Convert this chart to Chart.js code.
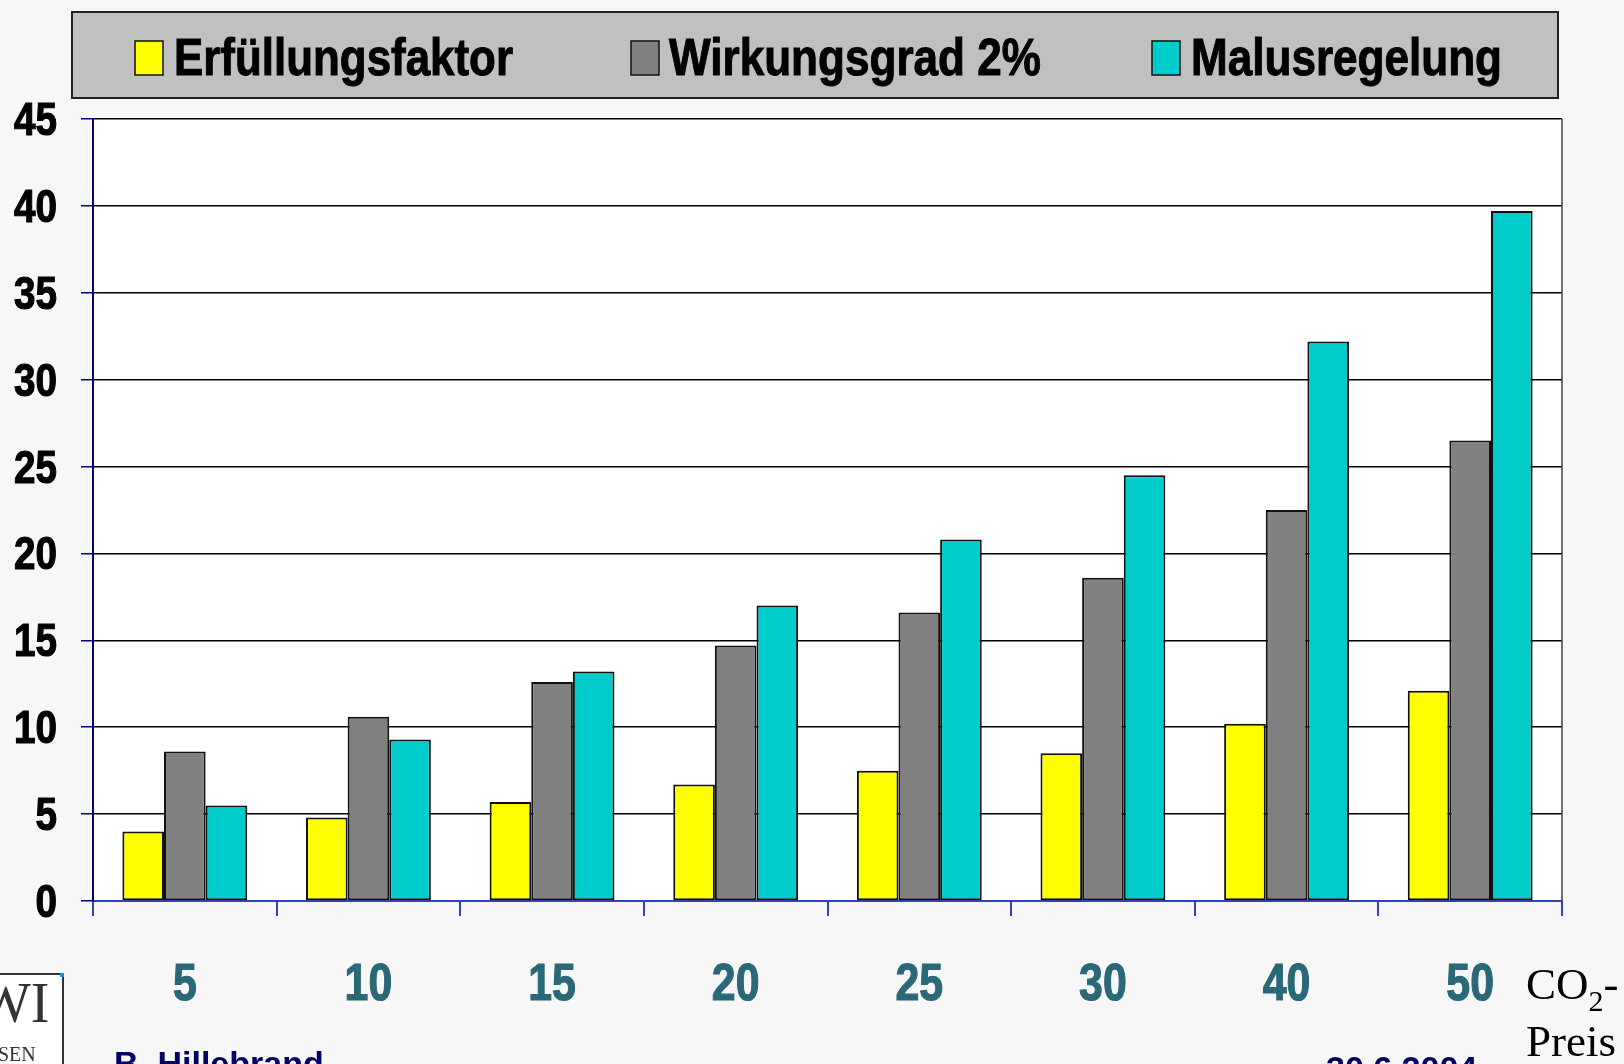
<!DOCTYPE html>
<html>
<head>
<meta charset="utf-8">
<script src="https://cdn.jsdelivr.net/npm/chart.js@4.4.0/dist/chart.umd.min.js"></script>
<style>
  html, body { margin: 0; padding: 0; background: #f7f7f7; width: 1624px; height: 1064px; overflow: hidden; }
  #wrap { position: absolute; left: 0; top: 0; width: 1624px; height: 1064px; }
  .note { position: absolute; white-space: nowrap; }
  #co2 { left: 1526px; top: 956px; font-family: 'Liberation Serif', 'DejaVu Serif', serif; font-size: 45px; line-height: 57px; color: #000; }
  #co2 sub { font-size: 30px; vertical-align: -12px; line-height: 0; }
  #author { left: 114px; top: 1044px; font-family: 'Liberation Sans', Arial, sans-serif; font-weight: bold; font-size: 34px; color: #000066; }
  #date { left: 1326px; top: 1049px; font-family: 'Liberation Sans', Arial, sans-serif; font-weight: bold; font-size: 34px; color: #000066; }
  #logo { position: absolute; left: -34px; top: 973px; width: 94px; height: 120px; background: #fff; border: 2px solid #333; }
  #logo::after { content: ''; position: absolute; right: -2px; top: -2px; width: 4px; height: 4px; background: #1a8fff; }
  #logo .wi { position: absolute; left: 10px; top: -4px; font-family: 'Liberation Serif', serif; font-size: 56px; color: #333; }
  #logo .sen { position: absolute; left: 30px; top: 68px; font-family: 'Liberation Serif', serif; font-size: 20px; color: #333; }
</style>
</head>
<body>
<div id="wrap">
  <canvas id="c" width="1624" height="1064"></canvas>
  <div id="logo"><span class="wi">WI</span><span class="sen">SEN</span></div>
  <div class="note" id="co2">CO<sub>2</sub>-<br>Preis</div>
  <div class="note" id="author">B. Hillebrand</div>
  <div class="note" id="date">30.6.2004</div>
</div>
<script>
// ---- data ----
const categories = ['5', '10', '15', '20', '25', '30', '40', '50'];
const erfuellungsfaktor = [4.0, 4.8, 5.7, 6.7, 7.5, 8.5, 10.2, 12.1];
const wirkungsgrad2 = [8.6, 10.6, 12.6, 14.7, 16.6, 18.6, 22.5, 26.5];
const malusregelung = [5.5, 9.3, 13.2, 17.0, 20.8, 24.5, 32.2, 39.7];
const seriesNames = ['Erfüllungsfaktor', 'Wirkungsgrad 2%', 'Malusregelung'];
const yTicks = [0, 5, 10, 15, 20, 25, 30, 35, 40, 45];

const sans = "'Liberation Sans', Arial, sans-serif";
const NARROW = 0.84;

function narrowText(ctx, text, x, y, align) {
  const w = ctx.measureText(text).width * NARROW;
  let left = x;
  if (align === 'right') left = x - w;
  else if (align === 'center') left = x - w / 2;
  ctx.save();
  ctx.translate(left, y);
  ctx.scale(NARROW, 1);
  ctx.textAlign = 'left';
  ctx.lineWidth = 1.2;
  ctx.strokeStyle = ctx.fillStyle;
  ctx.strokeText(text, 0, 0);
  ctx.fillText(text, 0, 0);
  ctx.restore();
}

// ---- legend + axis labels drawn as plugin ----
const decor = {
  id: 'decor',
  afterDraw(chart) {
    const ctx = chart.ctx;
    ctx.save();
    // legend frame
    ctx.fillStyle = '#c0c0c0';
    ctx.fillRect(72, 12, 1486, 86);
    ctx.lineWidth = 2;
    ctx.strokeStyle = '#222';
    ctx.strokeRect(72, 12, 1486, 86);
    const xs = [135, 631, 1152];
    const tx = [174, 669, 1191];
    const tw = [339, 372, 311];
    ctx.font = 'bold 52px ' + sans;
    ctx.textBaseline = 'alphabetic';
    chart.data.datasets.forEach((ds, i) => {
      ctx.fillStyle = ds.backgroundColor;
      ctx.fillRect(xs[i], 41, 28, 34);
      ctx.lineWidth = 1.5;
      ctx.strokeStyle = '#111';
      ctx.strokeRect(xs[i], 41, 28, 34);
      ctx.fillStyle = '#000';
      ctx.lineWidth = 1;
      ctx.strokeStyle = '#000';
      ctx.strokeText(ds.label, tx[i], 75, tw[i]);
      ctx.fillText(ds.label, tx[i], 75, tw[i]);
    });
    // right border of plot area
    const a = chart.chartArea;
    ctx.strokeStyle = '#444';
    ctx.lineWidth = 1.5;
    ctx.beginPath();
    ctx.moveTo(a.right, a.top);
    ctx.lineTo(a.right, a.bottom);
    ctx.stroke();
    // y tick labels
    const ys = chart.scales.y;
    ctx.font = 'bold 46px ' + sans;
    ctx.fillStyle = '#000';
    ys.ticks.forEach((t, i) => {
      narrowText(ctx, String(t.value), 57, ys.getPixelForTick(i) + 16, 'right');
    });
    // x tick labels
    const xsc = chart.scales.x;
    ctx.font = 'bold 51px ' + sans;
    ctx.fillStyle = '#2a6878';
    xsc.ticks.forEach((t, i) => {
      narrowText(ctx, chart.data.labels[i], xsc.getPixelForTick(i), 1000, 'center');
    });
    ctx.restore();
  }
};

const plotBg = {
  id: 'plotBg',
  beforeDraw(chart) {
    const a = chart.chartArea;
    const ctx = chart.ctx;
    ctx.save();
    ctx.fillStyle = '#ffffff';
    ctx.fillRect(a.left, a.top, a.right - a.left, a.bottom - a.top);
    ctx.restore();
  }
};

new Chart(document.getElementById('c'), {
  type: 'bar',
  data: {
    labels: categories,
    datasets: [
      { label: seriesNames[0], data: erfuellungsfaktor, backgroundColor: '#ffff00' },
      { label: seriesNames[1], data: wirkungsgrad2, backgroundColor: '#808080' },
      { label: seriesNames[2], data: malusregelung, backgroundColor: '#00cccc' }
    ]
  },
  options: {
    responsive: false,
    animation: false,
    devicePixelRatio: 1,
    layout: { padding: { top: 119, right: 62, left: 0, bottom: 0 } },
    datasets: { bar: { borderColor: '#111', borderWidth: 2, categoryPercentage: 0.68, barPercentage: 1.0, borderSkipped: false } },
    plugins: { legend: { display: false }, tooltip: { enabled: false } },
    scales: {
      x: {
        offset: true,
        grid: { offset: true, drawOnChartArea: false, drawTicks: true, tickLength: 15, color: '#3344bb', lineWidth: 2 },
        border: { display: true, color: '#3344bb', width: 2 },
        ticks: { display: false },
        afterFit(s) { s.height = 163; }
      },
      y: {
        min: 0, max: 45,
        afterBuildTicks(s) { s.ticks = yTicks.map(v => ({ value: v })); },
        grid: {
          color: ctx => (ctx.tick && ctx.tick.value === 0) ? 'rgba(0,0,0,0)' : '#000',
          tickColor: '#000080', lineWidth: 1.5, tickLength: 12
        },
        border: { display: true, color: '#000080', width: 2 },
        ticks: { display: false },
        afterFit(s) { s.width = 93; }
      }
    }
  },
  plugins: [plotBg, decor]
});
</script>
</body>
</html>
